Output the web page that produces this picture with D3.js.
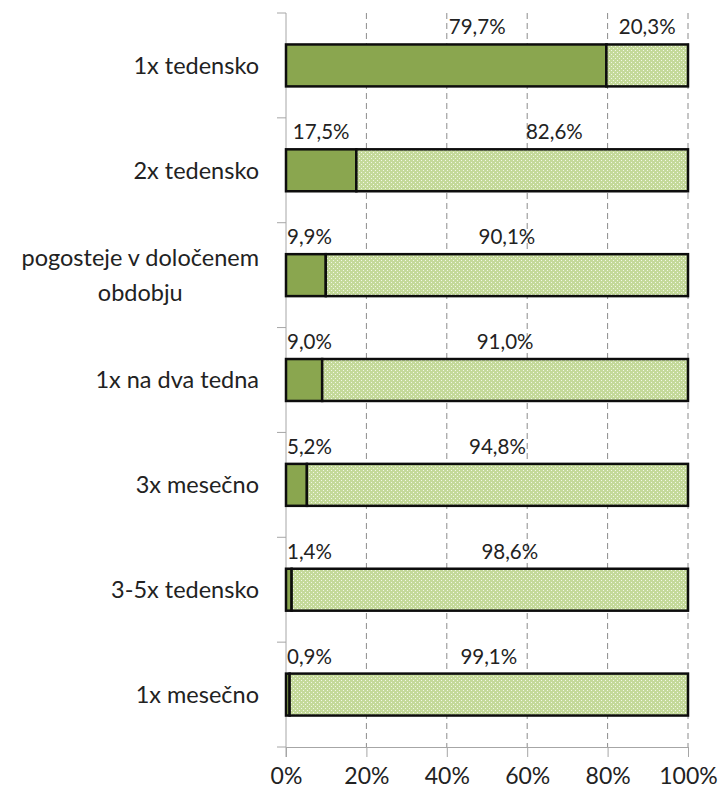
<!DOCTYPE html>
<html lang="sl">
  <head>
    <meta charset="UTF-8" />
    <title>pogostost</title>
    <script src="https://d3js.org/d3.v7.min.js" charset="utf-8"></script>
    <style>
      body { margin: 0; background: #fff; }
      text { font-family: Lato, "Open Sans", sans-serif; fill: #222; }
    </style>
  </head>
  <body>
    <div id="chart"></div>
    <script>
      // data
      const categories = [
        "1x tedensko",
        "2x tedensko",
        "pogosteje v določenem|obdobju",
        "1x na dva tedna",
        "3x mesečno",
        "3-5x tedensko",
        "1x mesečno"
      ];
      const yesValues = [79.7, 17.5, 9.9, 9.0, 5.2, 1.4, 0.9];
      const noValues = [20.3, 82.6, 90.1, 91.0, 94.8, 98.6, 99.1];
      const tickValues = [0, 20, 40, 60, 80, 100];

      const width = 722;
      const height = 792;
      const margin = { top: 13, left: 286, right: 34, bottom: 45 };
      const plotW = width - margin.left - margin.right;
      const plotH = height - margin.top - margin.bottom;

      // labels that Excel had moved by hand
      const labelNudge = { "0-0": 31, "1-1": 32, "5-1": 20 };

      const fmt = v => v.toFixed(1).replace(".", ",") + "%";

      const svg = d3
        .select("#chart")
        .append("svg")
        .attr("width", width)
        .attr("height", height);

      const defs = svg.append("defs");
      const pat = defs
        .append("pattern")
        .attr("id", "dots")
        .attr("patternUnits", "userSpaceOnUse")
        .attr("width", 4)
        .attr("height", 4);
      pat.append("rect").attr("width", 4).attr("height", 4).attr("fill", "#c4d99a");
      pat.append("rect").attr("x", 1).attr("y", 1).attr("width", 1).attr("height", 1).attr("fill", "#f2f7e6");
      pat.append("rect").attr("x", 3).attr("y", 3).attr("width", 1).attr("height", 1).attr("fill", "#f2f7e6");

      const x = d3.scaleLinear().domain([0, 100]).range([0, plotW]);
      const y = d3
        .scaleBand()
        .domain(d3.range(categories.length))
        .range([0, plotH])
        .paddingInner(0.6)
        .paddingOuter(0.3);

      const g = svg
        .append("g")
        .attr("transform", "translate(" + margin.left + "," + margin.top + ")");

      // dashed grid
      g.selectAll(".grid")
        .data(tickValues.slice(1))
        .enter()
        .append("line")
        .attr("x1", d => x(d))
        .attr("x2", d => x(d))
        .attr("y1", 0)
        .attr("y2", plotH)
        .attr("stroke", "#8c8c8c")
        .attr("stroke-width", 1)
        .attr("stroke-dasharray", "6,4");

      // bottom axis
      const xAxis = d3
        .axisBottom(x)
        .tickValues(tickValues)
        .tickSize(10)
        .tickFormat(d => d + "%");
      const xg = g.append("g").attr("transform", "translate(0," + plotH + ")").call(xAxis);
      xg.select(".domain").attr("stroke", "#a6a6a6");
      xg.selectAll(".tick line").attr("stroke", "#a6a6a6");
      xg.selectAll(".tick text")
        .attr("y", 21)
        .attr("dy", "0.71em")
        .style("font-size", "23px");

      // left axis: line plus ticks at band boundaries
      const step = plotH / categories.length;
      g.append("line")
        .attr("x1", 0).attr("x2", 0)
        .attr("y1", 0).attr("y2", plotH + 10)
        .attr("stroke", "#a6a6a6");
      g.selectAll(".ytick")
        .data(d3.range(categories.length + 1))
        .enter()
        .append("line")
        .attr("x1", -9).attr("x2", 0)
        .attr("y1", d => d * step)
        .attr("y2", d => d * step)
        .attr("stroke", "#a6a6a6");

      // category labels
      const catG = g.selectAll(".cat")
        .data(categories)
        .enter()
        .append("text")
        .attr("class", "cat")
        .style("font-size", "23.5px")
        .attr("text-anchor", "middle");
      catG.each(function(d, i) {
        const lines = d.split("|");
        const t = d3.select(this);
        const cy = y(i) + y.bandwidth() / 2;
        const lh = 35;
        lines.forEach((l, k) => {
          t.append("tspan")
            .attr("x", 0)
            .attr("y", cy + (k - (lines.length - 1) / 2) * lh)
            .attr("dy", "0.35em")
            .text(l);
        });
        const w = this.getBBox().width;
        t.selectAll("tspan").attr("x", -27 - w / 2);
      });

      // stacked bars
      const rows = categories.map((c, i) => [
        { i: i, s: 0, x0: 0, v: yesValues[i] },
        { i: i, s: 1, x0: yesValues[i], v: noValues[i] }
      ]);
      const segs = rows.flat();

      g.selectAll(".bar")
        .data(segs)
        .enter()
        .append("rect")
        .attr("x", d => x(d.x0))
        .attr("y", d => y(d.i))
        .attr("width", d => x(Math.min(100, d.x0 + d.v)) - x(d.x0))
        .attr("height", y.bandwidth())
        .attr("fill", d => (d.s === 0 ? "#8aa64f" : "url(#dots)"))
        .attr("stroke", "#0d0d0d")
        .attr("stroke-width", 2.5);

      // value labels
      g.selectAll(".val")
        .data(segs)
        .enter()
        .append("text")
        .style("font-size", "20.5px")
        .attr("text-anchor", d => (d.v < 12 ? "start" : "middle"))
        .attr("x", d => {
          if (d.v < 12) return x(d.x0) + 1;
          const n = labelNudge[d.i + "-" + d.s] || 0;
          return x(d.x0 + d.v / 2) + n;
        })
        .attr("y", d => y(d.i) - 10)
        .text(d => fmt(d.v));
    </script>
  </body>
</html>
